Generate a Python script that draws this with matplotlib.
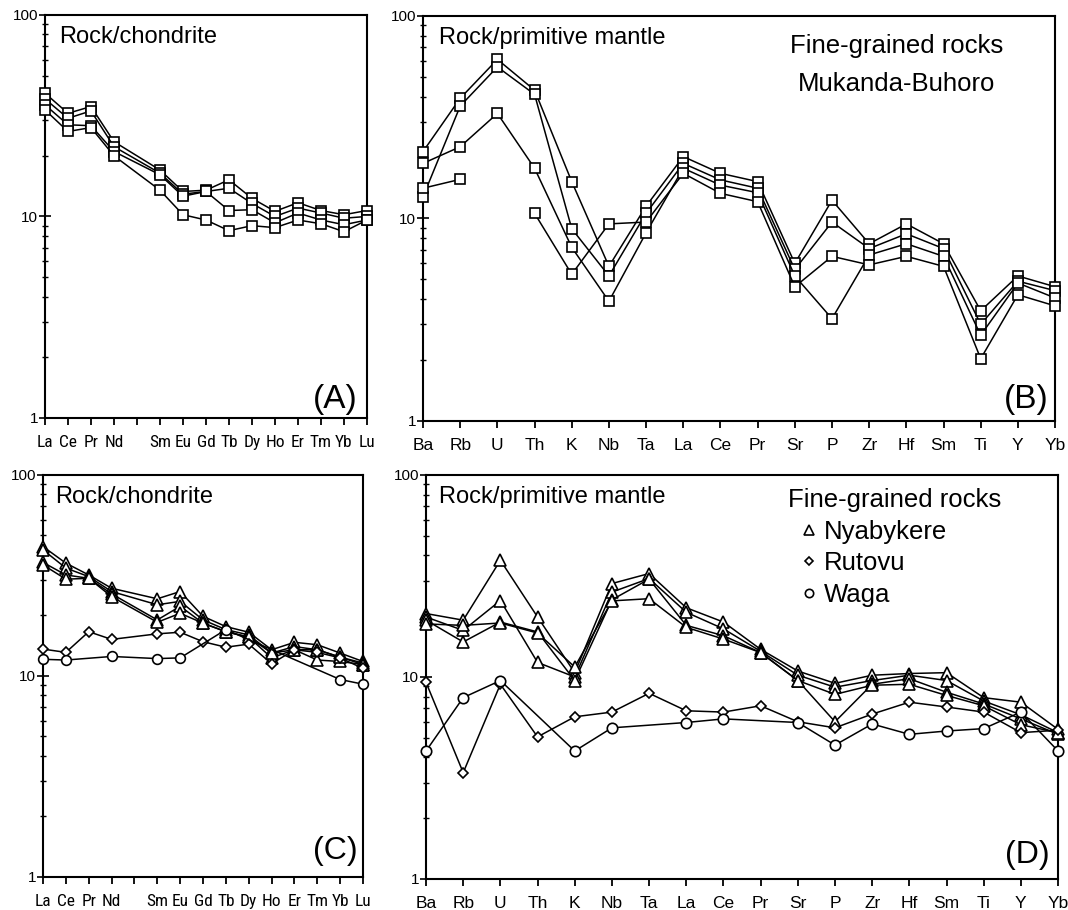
import numpy as np
import matplotlib
matplotlib.use('Agg')
import matplotlib.pyplot as plt
from matplotlib.lines import Line2D

plt.rcParams['font.family'] = ['Liberation Sans', 'DejaVu Sans']
NARROW = ['Roboto Condensed', 'Liberation Sans', 'DejaVu Sans']

#%% data
nan = np.nan

ree = ['La', 'Ce', 'Pr', 'Nd', '', 'Sm', 'Eu', 'Gd', 'Tb', 'Dy', 'Ho', 'Er', 'Tm', 'Yb', 'Lu']
spider = ['Ba', 'Rb', 'U', 'Th', 'K', 'Nb', 'Ta', 'La', 'Ce', 'Pr', 'Sr', 'P', 'Zr', 'Hf',
          'Sm', 'Ti', 'Y', 'Yb']

# (A) Mukanda-Buhoro, chondrite normalised (Pm column empty)
mb_ree = [
    [40.9, 32.5, 35.1, 23.5, nan, 17.0, 13.3, 13.5, 15.2, 12.3, 10.6, 11.7, 10.7, 10.2, 10.7],
    [38.3, 30.7, 33.4, 22.2, nan, 16.4, 12.9, 13.3, 13.8, 11.6, 10.0, 11.0, 10.4, 9.8, 10.0],
    [35.8, 28.5, 28.2, 21.0, nan, 16.1, 12.6, 13.3, 10.7, 10.8, 9.3, 10.4, 9.6, 9.1, 9.6],
    [33.8, 26.4, 27.6, 20.0, nan, 13.5, 10.2, 9.6, 8.5, 9.0, 8.8, 9.6, 9.2, 8.4, 9.6],
]

# (B) Mukanda-Buhoro, primitive mantle normalised
mb_pm = [
    [21.4, 39.2, 61.0, 43.0, 15.2, 5.8, 11.5, 20.2, 16.7, 15.2, 6.0, 12.3, 7.5, 9.4, 7.5, 3.5, 5.2, 4.6],
    [12.8, 35.9, 56.0, 41.0, 8.9, 5.2, 10.6, 18.7, 15.5, 14.1, 5.6, 9.6, 7.1, 8.4, 7.1, 3.0, 4.9, 4.4],
    [18.7, 22.6, 33.0, 17.7, 7.2, 3.9, 8.5, 17.7, 14.6, 13.4, 5.2, 3.2, 6.6, 7.5, 6.5, 2.65, 4.8, 4.05],
    [14.1, 15.6, nan, 10.6, 5.3, 9.4, 9.6, 16.7, 13.3, 12.1, 4.6, 6.5, 5.9, 6.5, 5.8, 2.03, 4.2, 3.7],
]

# (C) chondrite normalised
nya_ree = [
    [44.0, 36.4, 31.8, 27.3, nan, 24.2, 26.3, 19.8, 17.6, 16.5, 13.5, 14.7, 14.3, 13.0, 11.8],
    [42.4, 34.4, 31.2, 26.3, nan, 22.6, 23.5, 19.0, 17.0, 16.0, 13.0, 14.0, 13.5, 12.4, 11.6],
    [36.7, 31.8, 30.6, 25.6, nan, 19.0, 22.2, 18.3, 16.6, 15.6, 12.3, 13.5, 12.0, 11.8, 11.4],
    [35.7, 30.3, 30.6, 24.8, nan, 18.5, 20.5, 18.3, 16.6, 15.6, 13.0, 13.5, 13.5, 12.4, 11.4],
]
rut_ree = [13.6, 13.1, 16.6, 15.2, nan, 16.2, 16.5, 14.8, 13.9, 14.4, 11.5, 13.5, 13.1, 12.3, 10.9]
wag_ree = [12.1, 12.0, nan, 12.5, nan, 12.2, 12.3, nan, 17.0, nan, nan, nan, nan, 9.6, 9.1]

# (D) primitive mantle normalised
nya_pm = [
    [20.6, 19.1, 37.8, 19.8, 10.5, 29.0, 32.5, 22.0, 18.7, 13.7, 10.7, 9.3, 10.2, 10.4, 10.5, 7.9, 7.5, 5.5],
    [19.8, 17.0, 23.9, 11.8, 10.0, 26.3, 30.7, 20.9, 17.3, 13.4, 10.2, 8.9, 9.6, 10.2, 9.6, 7.6, 6.5, 5.3],
    [19.1, 14.9, 18.7, 16.7, 9.6, 24.1, 30.5, 18.0, 16.0, 13.2, 9.6, 6.0, 9.2, 9.8, 8.4, 7.35, 6.2, 5.2],
    [18.3, 18.0, 18.5, 16.5, 11.2, 23.8, 24.4, 17.6, 15.4, 13.2, 9.6, 8.2, 9.1, 9.2, 8.1, 7.2, 5.8, 5.3],
]
rut_pm = [9.4, 3.36, 9.2, 5.05, 6.35, 6.7, 8.3, 6.8, 6.7, 7.2, 6.0, 5.6, 6.55, 7.5, 7.1, 6.7, 5.3, 5.45]
wag_pm = [4.3, 7.9, 9.6, nan, 4.3, 5.6, nan, 5.95, 6.2, nan, 5.95, 4.6, 5.85, 5.2, 5.4, 5.55, 6.7, 4.3]

#%% plotting helpers

def draw(ax, series, marker, ms, join=True):
    for v in series:
        v = np.array(v, dtype=float)
        x = np.arange(len(v))
        if join:   # connect across missing elements
            m = np.isfinite(v)
            x, v = x[m], v[m]
        ax.plot(x, v, color='black', lw=1.1, marker=marker, ms=ms, mfc='white',
                mec='black', mew=1.2, clip_on=False, zorder=3)


def frame(ax, labels, tag, tick_font, fs_tick, tag_xy, tag_fs):
    ax.set_yscale('log')
    ax.set_ylim(1, 100)
    ax.set_xlim(0, len(labels) - 1)
    ax.set_xticks(np.arange(len(labels)))
    ax.set_xticklabels(labels, fontsize=fs_tick, family=tick_font)
    ax.set_yticks([1, 10, 100])
    ax.set_yticklabels(['1', '10', '100'], fontsize=11)
    ax.tick_params(axis='x', direction='out', length=5, width=1.3, pad=7)
    ax.tick_params(axis='y', which='major', direction='inout', length=8, width=1.2, pad=1)
    ax.tick_params(axis='y', which='minor', direction='inout', length=5, width=1.0)
    ax.yaxis.set_minor_formatter(plt.NullFormatter())
    for s in ax.spines.values():
        s.set_linewidth(1.5)
    ax.text(tag_xy[0], tag_xy[1], tag, transform=ax.transAxes, ha='right', va='baseline',
            fontsize=tag_fs)


fig = plt.figure(figsize=(10.68, 9.10), dpi=100, facecolor='white')

axA = fig.add_axes([0.0421, 0.5407, 0.3015, 0.4429])
axB = fig.add_axes([0.3961, 0.5374, 0.5918, 0.4451])
axC = fig.add_axes([0.0403, 0.0363, 0.2996, 0.4418])
axD = fig.add_axes([0.3989, 0.0341, 0.5918, 0.4440])

# (A)
draw(axA, mb_ree, 's', 7)
frame(axA, ree, '(A)', NARROW, 12.5, (0.972, 0.025), 24)
axA.text(0.045, 0.972, 'Rock/chondrite', transform=axA.transAxes, ha='left', va='top',
         fontsize=17)

# (B)
draw(axB, mb_pm, 's', 7.5, join=False)
frame(axB, spider, '(B)', 'Liberation Sans', 12.5, (0.99, 0.032), 24)
axB.text(0.025, 0.972, 'Rock/primitive mantle', transform=axB.transAxes, ha='left',
         va='top', fontsize=17)
axB.text(0.749, 0.909, 'Fine-grained rocks', transform=axB.transAxes, ha='center',
         va='baseline', fontsize=18.5)
axB.text(0.749, 0.815, 'Mukanda-Buhoro', transform=axB.transAxes, ha='center',
         va='baseline', fontsize=18.5)

# (C)
draw(axC, nya_ree, '^', 8)
draw(axC, [rut_ree], 'D', 5.5)
draw(axC, [wag_ree], 'o', 7)
frame(axC, ree, '(C)', NARROW, 12.5, (0.984, 0.045), 23)
axC.text(0.0375, 0.972, 'Rock/chondrite', transform=axC.transAxes, ha='left', va='top',
         fontsize=17)

# (D)
draw(axD, nya_pm, '^', 8)
draw(axD, [rut_pm], 'D', 5.5)
draw(axD, [wag_pm], 'o', 7.5)
frame(axD, spider, '(D)', 'Liberation Sans', 12.5, (0.987, 0.04), 23)
axD.text(0.021, 0.972, 'Rock/primitive mantle', transform=axD.transAxes, ha='left',
         va='top', fontsize=17)

handles = [Line2D([], [], ls='none', marker='^', ms=6.5, mfc='white', mec='black', mew=1.2),
           Line2D([], [], ls='none', marker='D', ms=4.5, mfc='white', mec='black', mew=1.2),
           Line2D([], [], ls='none', marker='o', ms=6, mfc='white', mec='black', mew=1.2)]
leg = axD.legend(handles, ['Nyabykere', 'Rutovu', 'Waga'], title='Fine-grained rocks',
                 loc='upper left', bbox_to_anchor=(0.573, 0.968), frameon=False,
                 fontsize=18.5, title_fontsize=18.5, handlelength=1.6, handletextpad=-0.2,
                 labelspacing=0.3, borderaxespad=0, borderpad=0, alignment='left')

fig.savefig('out.png', dpi=100)
